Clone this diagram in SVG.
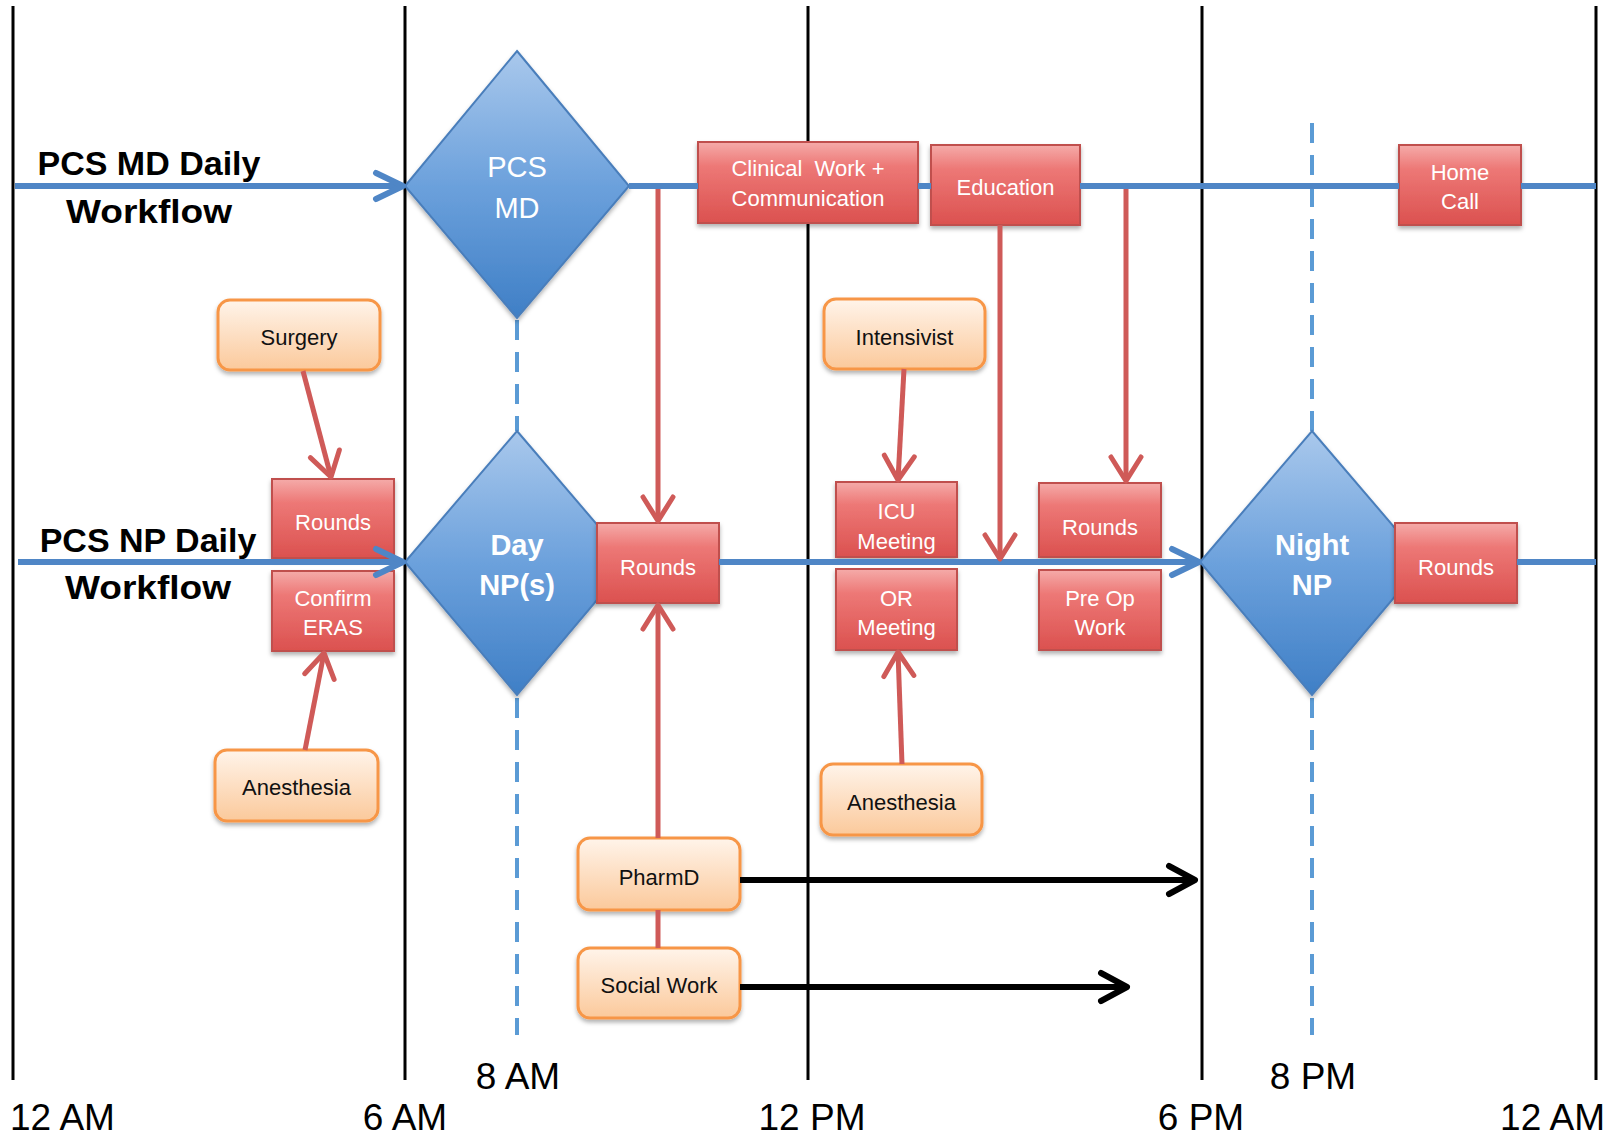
<svg xmlns="http://www.w3.org/2000/svg" width="1609" height="1135" viewBox="0 0 1609 1135">
<defs>
<linearGradient id="gRed" x1="0" y1="0" x2="0" y2="1">
<stop offset="0" stop-color="#f5aba9"/><stop offset="0.3" stop-color="#ed7876"/><stop offset="1" stop-color="#db514f"/>
</linearGradient>
<linearGradient id="gOr" x1="0" y1="0" x2="0" y2="1">
<stop offset="0" stop-color="#fff4ea"/><stop offset="1" stop-color="#fbc99b"/>
</linearGradient>
<linearGradient id="gBlue" x1="0" y1="0" x2="0" y2="1">
<stop offset="0" stop-color="#a9c8ec"/><stop offset="0.5" stop-color="#6ca1dc"/><stop offset="1" stop-color="#3f7fc6"/>
</linearGradient>
<filter id="sh" x="-10%" y="-10%" width="120%" height="130%">
<feDropShadow dx="0" dy="3" stdDeviation="2" flood-color="#000" flood-opacity="0.3"/>
</filter>
<marker id="aRed" viewBox="-4 -4 32 38" refX="24" refY="15" markerWidth="32" markerHeight="38" markerUnits="userSpaceOnUse" orient="auto">
<path d="M0,0 L24,15 L0,30" fill="none" stroke="#cf5a58" stroke-width="5" stroke-linecap="round" stroke-linejoin="round"/>
</marker>
<marker id="aBlue" viewBox="-4 -4 36 36" refX="27" refY="13" markerWidth="36" markerHeight="36" markerUnits="userSpaceOnUse" orient="auto">
<path d="M0,0 L27,13 L0,26" fill="none" stroke="#4f86c6" stroke-width="6" stroke-linecap="round" stroke-linejoin="round"/>
</marker>
<marker id="aBlack" viewBox="-4 -4 36 36" refX="26" refY="14" markerWidth="36" markerHeight="36" markerUnits="userSpaceOnUse" orient="auto">
<path d="M0,0 L26,14 L0,28" fill="none" stroke="#000" stroke-width="6" stroke-linecap="round" stroke-linejoin="round"/>
</marker>
</defs>
<style>
text{font-family:"Liberation Sans",Arial,sans-serif;text-anchor:middle;white-space:pre}
.grid{stroke:#000;stroke-width:3}
.dash{stroke:#5b9bd5;stroke-width:4;stroke-dasharray:20 12;fill:none}
.red rect{fill:url(#gRed);stroke:#c0504d;stroke-width:2;filter:url(#sh)}
.red text{fill:#fff;font-size:22px}
.or rect{fill:url(#gOr);stroke:#f79646;stroke-width:3;filter:url(#sh)}
.or text{fill:#111;font-size:22px}
.dia polygon{fill:url(#gBlue);stroke:#4a7ebb;stroke-width:2;filter:url(#sh)}
.dia text{fill:#fff;font-size:29px}
.title{font-size:34px;font-weight:bold;fill:#000}
.time{font-size:37px;fill:#000}
.bl{stroke:#4f86c6;stroke-width:6;fill:none}
.rl{stroke:#cf5a58;stroke-width:5;fill:none}
.kl{stroke:#000;stroke-width:6;fill:none}
</style>
<rect width="1609" height="1135" fill="#fff"/>
<g id="grid">
<line class="grid" x1="13" y1="6" x2="13" y2="1080"/>
<line class="grid" x1="405" y1="6" x2="405" y2="1080"/>
<line class="grid" x1="808" y1="6" x2="808" y2="1080"/>
<line class="grid" x1="1202" y1="6" x2="1202" y2="1080"/>
<line class="grid" x1="1596" y1="6" x2="1596" y2="1080"/>
<line class="dash" x1="517" y1="320" x2="517" y2="431"/>
<line class="dash" x1="517" y1="698" x2="517" y2="1035"/>
<line class="dash" x1="1312" y1="123" x2="1312" y2="431"/>
<line class="dash" x1="1312" y1="698" x2="1312" y2="1035"/>
</g>
<g id="labels">
<text class="title" x="149" y="175">PCS MD Daily</text>
<text class="title" x="149" y="223" textLength="166" lengthAdjust="spacingAndGlyphs">Workflow</text>
<text class="title" x="148" y="552">PCS NP Daily</text>
<text class="title" x="148" y="599" textLength="166" lengthAdjust="spacingAndGlyphs">Workflow</text>
<text class="time" x="10" y="1130" style="text-anchor:start">12 AM</text>
<text class="time" x="405" y="1130">6 AM</text>
<text class="time" x="812" y="1130">12 PM</text>
<text class="time" x="1201" y="1130">6 PM</text>
<text class="time" x="1605" y="1130" style="text-anchor:end">12 AM</text>
<text class="time" x="518" y="1089">8 AM</text>
<text class="time" x="1313" y="1089">8 PM</text>
</g>
<g id="node-pcs-md" class="dia">
<polygon points="517,51 629,186 517,318 405,186"/>
<text x="517" y="177">PCS</text><text x="517" y="218">MD</text>
</g>
<g id="node-day-np" class="dia">
<polygon points="517,431 629,562 517,695 405,562"/>
<text x="517" y="555" font-weight="bold">Day</text><text x="517" y="595" font-weight="bold">NP(s)</text>
</g>
<g id="node-night-np" class="dia">
<polygon points="1312,431 1424,562 1312,695 1200,562"/>
<text x="1312" y="555" font-weight="bold">Night</text><text x="1312" y="595" font-weight="bold">NP</text>
</g>
<g id="node-clinical" class="red"><rect x="698" y="142" width="220" height="81"/><text x="808" y="176">Clinical  Work +</text><text x="808" y="206">Communication</text></g>
<g id="node-education" class="red"><rect x="931" y="145" width="149" height="80"/><text x="1005.5" y="195">Education</text></g>
<g id="node-home-call" class="red"><rect x="1399" y="145" width="122" height="80"/><text x="1460" y="180">Home</text><text x="1460" y="209">Call</text></g>
<g id="node-rounds-early" class="red"><rect x="272" y="479" width="122" height="79"/><text x="333" y="530">Rounds</text></g>
<g id="node-confirm-eras" class="red"><rect x="272" y="571" width="122" height="80"/><text x="333" y="606">Confirm</text><text x="333" y="635">ERAS</text></g>
<g id="node-rounds-day" class="red"><rect x="597" y="523" width="122" height="80"/><text x="658" y="575">Rounds</text></g>
<g id="node-icu-meeting" class="red"><rect x="836" y="482" width="121" height="75"/><text x="896.5" y="519">ICU</text><text x="896.5" y="549">Meeting</text></g>
<g id="node-or-meeting" class="red"><rect x="836" y="569" width="121" height="81"/><text x="896.5" y="606">OR</text><text x="896.5" y="635">Meeting</text></g>
<g id="node-rounds-pm" class="red"><rect x="1039" y="483" width="122" height="74"/><text x="1100" y="535">Rounds</text></g>
<g id="node-pre-op" class="red"><rect x="1039" y="570" width="122" height="80"/><text x="1100" y="606">Pre Op</text><text x="1100" y="635">Work</text></g>
<g id="node-rounds-night" class="red"><rect x="1395" y="523" width="122" height="80"/><text x="1456" y="575">Rounds</text></g>
<g id="node-surgery" class="or"><rect x="218" y="300" width="162" height="70" rx="12"/><text x="299" y="345">Surgery</text></g>
<g id="node-anesthesia-1" class="or"><rect x="215" y="750" width="163" height="71" rx="12"/><text x="296.5" y="795">Anesthesia</text></g>
<g id="node-intensivist" class="or"><rect x="824" y="299" width="161" height="70" rx="12"/><text x="904.5" y="345">Intensivist</text></g>
<g id="node-anesthesia-2" class="or"><rect x="821" y="764" width="161" height="71" rx="12"/><text x="901.5" y="810">Anesthesia</text></g>
<g id="node-pharmd" class="or"><rect x="578" y="838" width="162" height="72" rx="12"/><text x="659" y="885">PharmD</text></g>
<g id="node-social-work" class="or"><rect x="578" y="948" width="162" height="70" rx="12"/><text x="659" y="993">Social Work</text></g>
<g id="connectors">
<line class="bl" x1="15" y1="186" x2="403" y2="186" marker-end="url(#aBlue)"/>
<line class="bl" x1="629" y1="186" x2="698" y2="186"/>
<line class="bl" x1="918" y1="186" x2="931" y2="186"/>
<line class="bl" x1="1080" y1="186" x2="1399" y2="186"/>
<line class="bl" x1="1521" y1="186" x2="1596" y2="186"/>
<line class="bl" x1="18" y1="562" x2="403" y2="562" marker-end="url(#aBlue)"/>
<line class="bl" x1="719" y1="562" x2="1199" y2="562" marker-end="url(#aBlue)"/>
<line class="bl" x1="1517" y1="562" x2="1596" y2="562"/>
<line class="rl" x1="658" y1="189" x2="658" y2="521" marker-end="url(#aRed)"/>
<line class="rl" x1="658" y1="838" x2="658" y2="605" marker-end="url(#aRed)"/>
<line class="rl" x1="658" y1="910" x2="658" y2="948"/>
<line class="rl" x1="303" y1="371" x2="331" y2="477" marker-end="url(#aRed)"/>
<line class="rl" x1="305" y1="750" x2="324" y2="653" marker-end="url(#aRed)"/>
<line class="rl" x1="904" y1="369" x2="898" y2="480" marker-end="url(#aRed)"/>
<line class="rl" x1="902" y1="764" x2="898" y2="652" marker-end="url(#aRed)"/>
<line class="rl" x1="1000" y1="225" x2="1000" y2="559" marker-end="url(#aRed)"/>
<line class="rl" x1="1126" y1="189" x2="1126" y2="481" marker-end="url(#aRed)"/>
<line class="kl" x1="740" y1="880" x2="1195" y2="880" marker-end="url(#aBlack)"/>
<line class="kl" x1="740" y1="987" x2="1127" y2="987" marker-end="url(#aBlack)"/>
</g>
</svg>
